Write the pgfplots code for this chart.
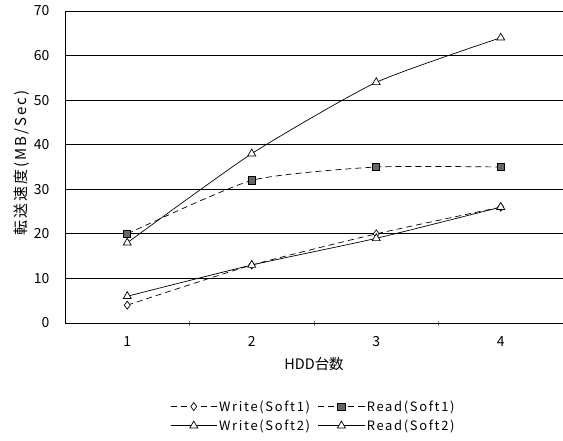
\documentclass[border=0pt]{standalone}
\usepackage{pgfplots}
\pgfplotsset{compat=1.18}
\usepackage{fontspec}
\setmainfont{Noto Sans CJK JP}
\newfontfamily\spacedfont[LetterSpace=13]{Noto Sans CJK JP}
\newfontfamily\yfont[LetterSpace=14]{Noto Sans CJK JP}
\begin{document}
\begin{tikzpicture}[x=1bp,y=1bp]
\path[use as bounding box] (-65bp,-118bp) rectangle (498bp,323bp);
\begin{axis}[
  at={(0,0)}, anchor=south west,
  scale only axis, width=498bp, height=312bp,
  xmin=0.5, xmax=4.5, ymin=0, ymax=70,
  axis x line=bottom, axis y line=left,
  axis line style={-, line width=0.9pt},
  xtick={1,2,3,4}, major x tick style={draw=none},
  minor xtick={1.5,2.5,3.5}, minor tick length=5bp,
  minor x tick style={line width=0.8pt},
  ytick={0,10,...,70}, major y tick style={draw=none},
  ymajorgrids, grid style={black, line width=0.8pt},
  tick label style={font=\fontsize{14}{15}\selectfont},
  /pgf/number format/assume math mode=true,
  xticklabel style={yshift=-8bp},
  yticklabel style={xshift=-10bp},
  xlabel={HDD台数}, xlabel style={font=\fontsize{14.5}{15}\selectfont, yshift=-4bp},
  ylabel={転送速度(MB/Sec)}, ylabel style={font=\yfont\fontsize{15}{16}\selectfont, yshift=-2bp, xshift=4bp},
  legend columns=2,
  legend style={draw=none, at={(0.499,-0.235)}, anchor=north,
    font=\spacedfont\fontsize{13}{14}\selectfont, row sep=3bp,
    nodes={inner xsep=2bp},
    /tikz/every even column/.append style={column sep=6bp}},
  legend cell align=left,
  legend image code/.code={\draw[mark repeat=2,mark phase=2] plot coordinates {(0bp,0bp) (23bp,0bp) (46bp,0bp)};},
]
\addplot[black, line width=0.7pt, dash pattern=on 6bp off 4bp, smooth, tension=0.35,
  mark=diamond*, mark options={solid, fill=white, draw=black, scale=2}]
  coordinates {(1,4) (2,13) (3,20) (4,26)};
\addlegendentry{Write(Soft1)}
\addplot[black, line width=0.7pt, dash pattern=on 6bp off 4bp, smooth, tension=0.35,
  mark=square*, mark options={solid, fill=black!60, draw=black, scale=1.8}]
  coordinates {(1,20) (2,32) (3,35) (4,35)};
\addlegendentry{Read(Soft1)}
\addplot[black, line width=0.7pt, solid, smooth, tension=0.35,
  mark=triangle*, mark options={solid, fill=white, draw=black, scale=2.3}]
  coordinates {(1,6) (2,13) (3,19) (4,26)};
\addlegendentry{Write(Soft2)}
\addplot[black, line width=0.7pt, solid, smooth, tension=0.35,
  mark=triangle*, mark options={solid, fill=white, draw=black, scale=2.3}]
  coordinates {(1,18) (2,38) (3,54) (4,64)};
\addlegendentry{Read(Soft2)}
\end{axis}
\end{tikzpicture}
\end{document}
